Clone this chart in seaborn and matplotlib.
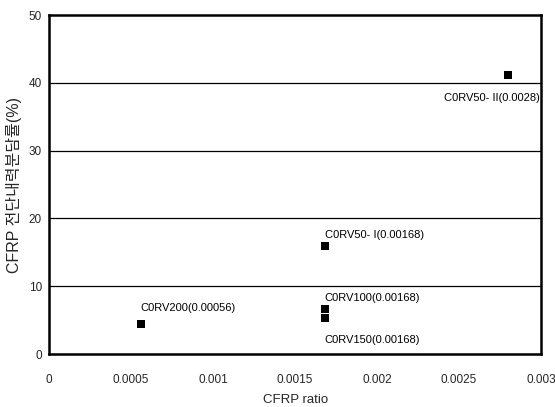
import matplotlib
matplotlib.use("Agg")
import matplotlib.pyplot as plt
import seaborn as sns
import pandas as pd

# CFRP ratio vs. share of shear capacity carried by CFRP
specimens = ["C0RV200", "C0RV50- I", "C0RV100", "C0RV150", "C0RV50- II"]
cfrp_ratio = [0.00056, 0.00168, 0.00168, 0.00168, 0.0028]
shear_share = [4.4, 15.9, 6.7, 5.3, 41.1]
ratio_labels = ["0.00056", "0.00168", "0.00168", "0.00168", "0.0028"]

x_ticks = [0, 0.0005, 0.001, 0.0015, 0.002, 0.0025, 0.003]
x_tick_labels = ["0", "0.0005", "0.001", "0.0015", "0.002", "0.0025", "0.003"]
y_ticks = [0, 10, 20, 30, 40, 50]

df = pd.DataFrame({"ratio": cfrp_ratio, "share": shear_share})

sns.set_style("white")
plt.rcParams["font.family"] = ["Liberation Sans", "Noto Sans CJK KR", "DejaVu Sans"]

fig = plt.figure(figsize=(5.55, 4.07), dpi=100)
ax = fig.add_axes([0.0883, 0.130, 0.8867, 0.833])

for y in [10, 20, 30, 40]:
    ax.axhline(y, color="black", lw=0.9, zorder=1)

sns.scatterplot(data=df, x="ratio", y="share", marker="s", s=26,
                color="black", edgecolor="black", linewidth=0, ax=ax, zorder=3)

# label placement: (dx, dy) in points and horizontal alignment
placement = [(0, 12, "left"), (0, 8, "left"), (0, 7.5, "left"),
             (0, -16, "left"), (23, -16, "right")]
for name, x, y, lab, (dx, dy, ha) in zip(specimens, cfrp_ratio, shear_share,
                                          ratio_labels, placement):
    ax.annotate(f"{name}({lab})", (x, y), xytext=(dx, dy), textcoords="offset points",
                fontsize=8, ha=ha, va="center", color="black")

ax.set_xlim(0, 0.003)
ax.set_ylim(0, 50)
ax.set_xticks(x_ticks)
ax.set_xticklabels(x_tick_labels)
ax.set_yticks(y_ticks)
ax.tick_params(axis="x", direction="in", length=4, labelsize=8.5, pad=14)
ax.tick_params(axis="y", direction="in", length=0, labelsize=8.5, pad=5)

for side in ["left", "bottom", "right", "top"]:
    ax.spines[side].set_visible(True)
    ax.spines[side].set_color("black")
    ax.spines[side].set_linewidth(1.8)

ax.set_xlabel("CFRP ratio", fontsize=9.5, labelpad=6)
ax.set_ylabel("CFRP 전단내력분담률(%)", fontsize=11.5, labelpad=5)

fig.savefig("out.png", dpi=100)
